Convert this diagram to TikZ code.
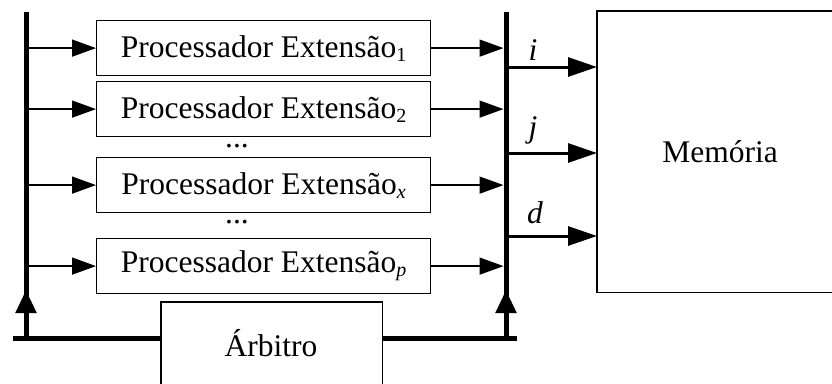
\documentclass[tikz,border=0pt]{standalone}
\usepackage{fontspec}
\setmainfont{Liberation Serif}
\usetikzlibrary{arrows.meta}
\newcommand\pesub[1]{\raisebox{-4pt}{\fontsize{20}{22}\selectfont #1}}
\begin{document}
\begin{tikzpicture}[x=1pt,y=-1pt,
  txt/.style={font=\fontsize{31.5}{36}\selectfont, inner sep=0pt},
  pbox/.style={draw, line width=1.2pt, minimum width=334pt, minimum height=55pt, inner sep=0pt, anchor=north west, txt},
  bigbox/.style={inner sep=0pt, anchor=north west, txt},
  edge/.style={line width=1.2pt},
  bus/.style={line width=5pt},
  inarrow/.style={line width=1.5pt, -{Triangle[length=24pt,width=17pt]}},
  outarrow/.style={line width=3pt, -{Triangle[length=29pt,width=19pt]}},
  uparrow/.style={line width=5pt, -{Triangle[length=23pt,width=20pt]}},
  lbl/.style={txt, font=\fontsize{31.5}{36}\selectfont\itshape}
]
\useasboundingbox (0,0) rectangle (832,383);
% coordinates of the buses
\coordinate (LB) at (26,0);
\coordinate (RB) at (506,0);
\coordinate (lbot) at (13,338);
\coordinate (rbot) at (517,338);
\coordinate (ltop) at (26,12);
\coordinate (rtop) at (506,12);
\coordinate (lup) at (26,290);
\coordinate (rup) at (506,290);
\coordinate (lcorner) at (26,338);
\coordinate (rcorner) at (506,338);

% processor boxes
\node[pbox] (p1) at (96,20) {Processador Extensão\pesub{1}};
\node[pbox] (p2) at (96,81) {Processador Extensão\pesub{2}};
\node[pbox] (px) at (96,157) {Processador Extensão\pesub{\itshape x}};
\node[pbox] (pp) at (96,238) {Processador Extensão\pesub{\itshape p}};
\node[txt] (d1) at (237,146) {...};
\node[txt] (d2) at (237,222) {...};

% memory and arbiter (cut by the picture's edges)
\node[bigbox, minimum width=270pt, minimum height=281pt] (mem) at (597,11) {};
\draw[edge] (mem.north east) -- (mem.north west) -- (mem.south west) -- (mem.south east);
\node[txt] (memtxt) at (720,152) {Memória};
\node[bigbox, minimum width=221pt, minimum height=90pt] (arb) at (161,302) {};
\draw[edge] (arb.south west) -- (arb.north west) -- (arb.north east) -- (arb.south east);
\node[txt] (arbtxt) at (271,343) {Árbitro};

% buses
\draw[bus] (ltop) -- (lcorner);
\draw[bus] (rtop) -- (rcorner);
\draw[uparrow] (lcorner) -- (lup);
\draw[uparrow] (rcorner) -- (rup);
\draw[bus] (lbot) -- (lbot -| arb.west);
\draw[bus] (arb.east |- rbot) -- (rbot);

% inputs from left bus, outputs to right bus
\foreach \n in {p1,p2,px,pp}{
  \draw[inarrow] (\n.west -| LB) -- (\n.west);
  \draw[inarrow, shorten >=2.5pt] (\n.east) -- (\n.east -| RB);
}

% outputs to memory
\coordinate (oi) at (506,67);
\coordinate (oj) at (506,153);
\coordinate (od) at (506,236);
\draw[outarrow] (oi) -- (oi -| mem.west);
\draw[outarrow] (oj) -- (oj -| mem.west);
\draw[outarrow] (od) -- (od -| mem.west);
\node[lbl] (li) at (533,50) {i};
\node[lbl] (lj) at (533,130) {j};
\node[lbl] (ld) at (535,213) {d};
\end{tikzpicture}
\end{document}
